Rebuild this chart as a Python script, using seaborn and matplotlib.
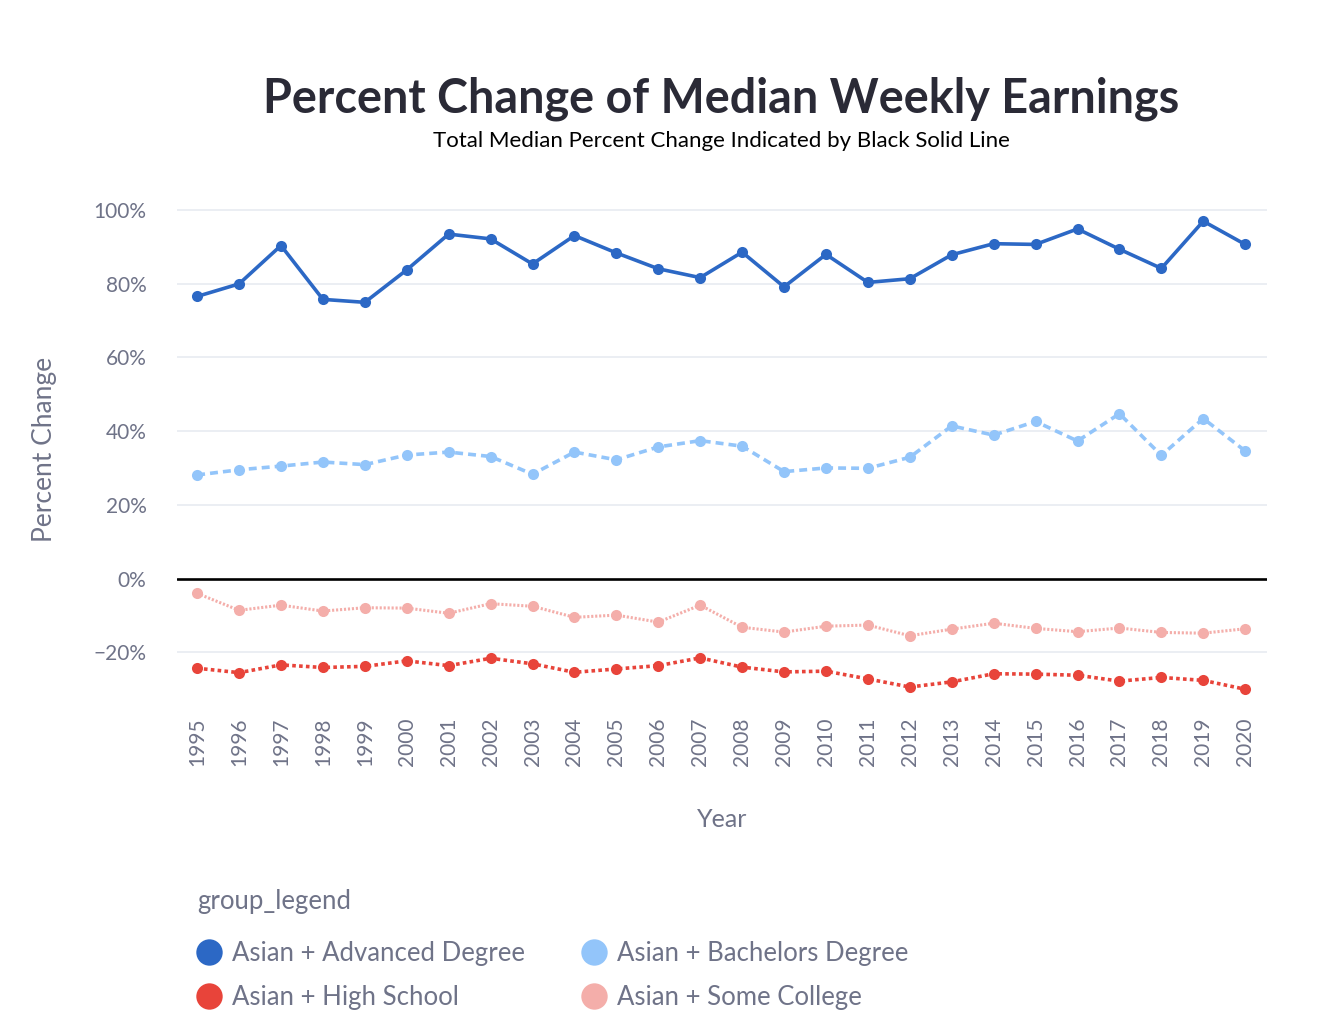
import matplotlib
matplotlib.use("Agg")
import matplotlib.pyplot as plt
from matplotlib.lines import Line2D
import seaborn as sns
import pandas as pd

# data (percent change)
years = list(range(1995, 2021))
advanced = [76.5, 79.9, 90.3, 75.7, 74.9, 83.7, 93.4, 92.1, 85.3, 93.0,
            88.3, 84.0, 81.6, 88.5, 79.1, 87.9, 80.3, 81.3, 87.8, 90.8,
            90.6, 94.8, 89.3, 84.1, 96.9, 90.6]
bachelors = [28.1, 29.5, 30.5, 31.6, 30.9, 33.5, 34.3, 33.1, 28.3, 34.3,
             32.2, 35.7, 37.4, 35.9, 29.0, 30.0, 29.9, 32.9, 41.4, 38.9,
             42.6, 37.3, 44.7, 33.4, 43.4, 34.6]
high_school = [-24.3, -25.5, -23.4, -24.1, -23.8, -22.3, -23.6, -21.6, -23.1, -25.4,
               -24.5, -23.6, -21.5, -24.0, -25.3, -25.1, -27.2, -29.4, -28.0, -25.8,
               -25.9, -26.2, -27.8, -26.8, -27.6, -30.0]
some_college = [-4.0, -8.6, -7.2, -8.8, -7.9, -8.0, -9.4, -6.8, -7.5, -10.5,
                -9.9, -11.8, -7.2, -13.2, -14.5, -12.9, -12.6, -15.5, -13.7, -12.1,
                -13.5, -14.4, -13.4, -14.6, -14.8, -13.6]

groups = ["Asian + Advanced Degree", "Asian + Bachelors Degree",
          "Asian + High School", "Asian + Some College"]
series = [advanced, bachelors, high_school, some_college]
colors = ["#2C68C5", "#93C5FA", "#E8443A", "#F4AEAA"]
dashes = ["", (2.2, 1.4), (1.0, 0.9), (0.7, 0.6)]
widths = [2.6, 2.6, 2.6, 2.2]

frames = []
for name, vals in zip(groups, series):
    frames.append(pd.DataFrame({"Year": years, "Percent": vals, "group_legend": name}))
df = pd.concat(frames, ignore_index=True)

sns.set_theme(style="white")
plt.rcParams["font.family"] = ["Lato", "DejaVu Sans"]

grey = "#6F7388"

fig = plt.figure(figsize=(13.18, 10.24), dpi=100)
ax = fig.add_axes([177 / 1318, 1 - 704 / 1024, 1090 / 1318, 509 / 1024])

for y in [100, 80, 60, 40, 20, -20]:
    ax.axhline(y, color="#E6E9F0", lw=1.1, zorder=0)
ax.axhline(0, color="black", lw=1.9, zorder=1)

for name, col, d, w in zip(groups, colors, dashes, widths):
    sub = df[df["group_legend"] == name]
    sns.lineplot(data=sub, x="Year", y="Percent", color=col, lw=w,
                 marker="o", markersize=8, markeredgewidth=0,
                 ax=ax, legend=False, zorder=3)
    if d:
        ax.lines[-1].set_dashes(d)

ax.set_xlim(1994.52, 2020.52)
ax.set_ylim(-34, 104)
ax.set_xticks(years)
ax.set_xticklabels([str(y) for y in years], rotation=90, fontsize=15, color=grey)
ax.set_yticks([100, 80, 60, 40, 20, 0, -20])
ax.set_yticklabels(["100%", "80%", "60%", "40%", "20%", "0%", "\u221220%"],
                   fontsize=15, color=grey)
ax.tick_params(axis="both", length=0)
ax.tick_params(axis="y", pad=22)
ax.tick_params(axis="x", pad=10)
for s in ax.spines.values():
    s.set_visible(False)

ax.set_xlabel("Year", fontsize=18, color=grey, labelpad=30)
ax.set_ylabel("Percent Change", fontsize=19, color=grey, labelpad=26)

fig.text(721 / 1318, 1 - 99 / 1024, "Percent Change of Median Weekly Earnings",
         ha="center", va="center", fontsize=33.7, fontweight="bold", color="#2A2A36")
fig.text(721 / 1318, 1 - 141 / 1024, "Total Median Percent Change Indicated by Black Solid Line",
         ha="center", va="center", fontsize=16, color="black")

# legend: title as text, entries filled row-wise (Advanced, Bachelors / High School, Some College)
fig.text(197 / 1318, 1 - 901 / 1024, "group_legend", ha="left", va="center",
         fontsize=18.5, color=grey)
order = [0, 2, 1, 3]
handles = [Line2D([0], [0], color=colors[i], marker="o", markersize=19, lw=0,
                  markeredgewidth=0) for i in order]
leg = fig.legend(handles, [groups[i] for i in order], ncol=2,
                 loc="upper left", bbox_to_anchor=(196 / 1318, 1 - 941 / 1024),
                 frameon=False, fontsize=18.5, borderpad=0, borderaxespad=0,
                 handlelength=1.0, handletextpad=0.4,
                 columnspacing=2.2, labelspacing=0.75)
for t in leg.get_texts():
    t.set_color(grey)

fig.savefig("out.png", dpi=100, facecolor="white")
